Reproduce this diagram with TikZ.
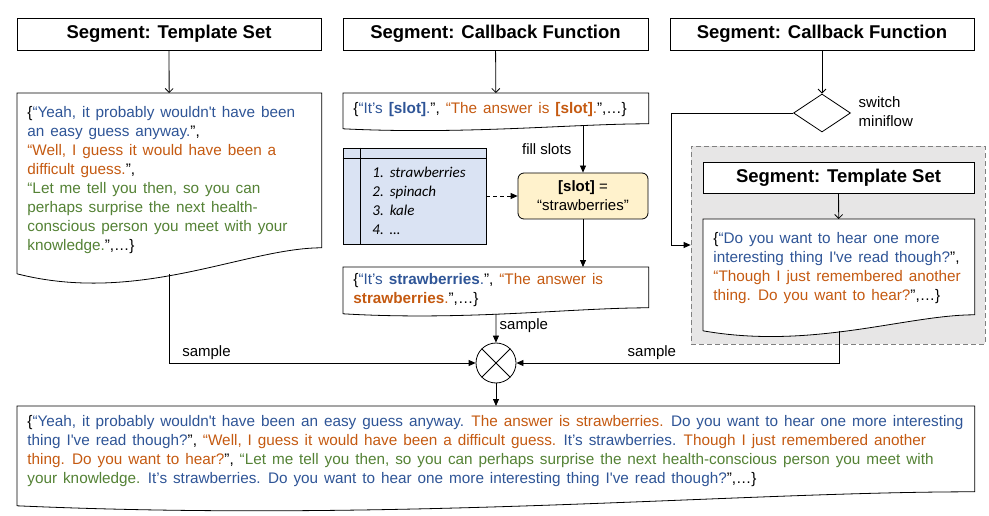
\documentclass[tikz,border=0pt]{standalone}
\usepackage{fontspec}
\setmainfont{Liberation Sans}
\newfontfamily\bodyfont{Liberation Sans}[WordSpace=1.4]
\newfontfamily\listfont{Carlito}
\usetikzlibrary{arrows.meta,positioning,shapes.geometric,calc}
\definecolor{tblue}{HTML}{2F5597}\definecolor{torange}{HTML}{C55A11}\definecolor{tgreen}{HTML}{548235}
\definecolor{slotfill}{HTML}{FFF2CC}\definecolor{listfill}{HTML}{DAE3F3}\definecolor{grayfill}{HTML}{E7E6E6}
\newcommand{\blu}[1]{\textcolor{tblue}{#1}}\newcommand{\ora}[1]{\textcolor{torange}{#1}}\newcommand{\grn}[1]{\textcolor{tgreen}{#1}}
\newcommand{\ap}{\textquotesingle}
\newcommand{\docpath}[2]{\draw[fill=white](#1.south west)--(#1.north west)--(#1.north east)--([yshift=#2pt]#1.south east)
 ..controls($(#1.south west)!0.75!(#1.south east)+(0pt,#2pt)$)and($(#1.south west)!0.4!(#1.south east)+(0pt,-1.2*#2pt)$)..(#1.south west);}
\tikzset{seg/.style={draw,fill=white,minimum height=32pt,font=\fontsize{18.5}{22}\selectfont\bfseries},docf/.style={inner sep=0pt,anchor=north west},
txt/.style={inner sep=0pt,anchor=north west,align=left,font=\bodyfont\fontsize{15.3}{19}\selectfont},lab/.style={font=\fontsize{15}{19}\selectfont},
barb/.style={-{Straight Barb[length=4pt,width=8pt]}},arr/.style={-{Triangle[length=7pt,width=6pt]}},
mixer/.style={draw,circle,fill=white,minimum size=40pt,inner sep=0pt,path picture={\draw(path picture bounding box.south west)--(path picture bounding box.north east)(path picture bounding box.north west)--(path picture bounding box.south east);}}}
\begin{document}
\begin{tikzpicture}[x=1pt,y=-1pt,line width=0.8pt]
\useasboundingbox(0,0)rectangle(989,516);
\node[draw=gray,dash pattern=on 5pt off 3pt,fill=grayfill,minimum width=294pt,minimum height=198pt](g)at(838,245){};
\node[seg,minimum width=304pt](t1)at(169,34){Segment: Template Set};
\node[seg,minimum width=305pt](t2)at(495.5,34){Segment: Callback Function};
\node[seg,minimum width=304pt](t3)at(822,34){Segment: Callback Function};
\node[seg,minimum width=271pt,minimum height=31pt](t4)at(838.5,177.5){Segment: Template Set};
% document frames
\node[docf,minimum width=304pt,minimum height=180pt](d1)at(17,93){};\docpath{d1}{26}
\node[docf,minimum width=305pt,minimum height=35pt](d2)at(343,93){};\docpath{d2}{5}
\node[docf,minimum width=305pt,minimum height=46pt](d3)at(343,267){};\docpath{d3}{6}
\node[docf,minimum width=271pt,minimum height=111pt](d4)at(703,219){};\docpath{d4}{16}
\node[docf,minimum width=957pt,minimum height=99pt](d5)at(17,406){};\docpath{d5}{14}
\node[txt](x1)at(27,106.4){\{\blu{“Yeah, it probably wouldn\ap t have been}\\\blu{an easy guess anyway.}”,\\
\ora{“Well, I guess it would have been a}\\\ora{difficult guess.}”,\\\grn{“Let me tell you then, so you can}\\
\grn{perhaps surprise the next health-}\\\grn{conscious person you meet with your}\\\grn{knowledge.}”,…\}};
\node[txt](x2)at(353,102.4){\{\blu{“It’s \textbf{[slot]}.}”, \ora{“The answer is \textbf{[slot]}.}”,…\}};
\node[txt](x3)at(353,273.4){\{\blu{“It’s \textbf{strawberries}.}”, \ora{“The answer is}\\\ora{\textbf{strawberries}.}”,…\}};
\node[txt](x4)at(713,232.4){\{\blu{“Do you want to hear one more}\\\blu{interesting thing I\ap ve read though?}”,\\
\ora{“Though I just remembered another}\\\ora{thing. Do you want to hear?}”,…\}};
\node[txt](x5)at(27,415.4){\{\blu{“Yeah, it probably wouldn\ap t have been an easy guess anyway.} \ora{The answer is strawberries.} \blu{Do you want to hear one more interesting}\\
\blu{thing I\ap ve read though?}”, \ora{“Well, I guess it would have been a difficult guess.} \blu{It’s strawberries.} \ora{Though I just remembered another}\\
\ora{thing. Do you want to hear?}”, \grn{“Let me tell you then, so you can perhaps surprise the next health-conscious person you meet with}\\
\grn{your knowledge.} \blu{It’s strawberries. Do you want to hear one more interesting thing I\ap ve read though?}”,…\}};
% slot filling
\node[draw,fill=listfill,minimum width=143pt,minimum height=96pt,inner sep=0pt](tb)at(414.5,196){};
\draw([xshift=18pt]tb.north west)--([xshift=18pt]tb.south west)([yshift=-11pt]tb.north west)--([yshift=-11pt]tb.north east);
\node[anchor=north west,inner sep=0pt,align=left,font=\listfont\itshape\fontsize{15}{19}\selectfont](items)at(372,167){1.\hspace{6pt}strawberries\\2.\hspace{6pt}spinach\\3.\hspace{6pt}kale\\4.\hspace{6pt}…};
\node[draw,fill=slotfill,rounded corners=6pt,minimum width=130pt,minimum height=46pt,align=center,lab](s)at(583,196){\textbf{[slot]} =\\“strawberries”};
\node[draw,diamond,minimum width=57pt,minimum height=38pt,inner sep=0pt](sw)at(822,113){};
\node[lab,align=left,anchor=west](l5)at(855,111.5){switch\\miniflow};
\node[mixer](mix)at(496,363){};
% connectors
\foreach\a/\b in{t1/d1,t2/d2,t3/sw,t4/d4}\draw[barb](\a)--(\b);
\draw[arr]($(s.north|-d2.south)+(0pt,3pt)$)--node[lab,left=8pt,pos=.49](l1){fill slots}(s);
\draw[arr,dash pattern=on 4pt off 3pt](tb)--(s);
\draw[arr](s)--(s|-d3.north);
\draw[arr](d3.south)--node[lab,right,pos=.4](l3){sample}(mix);
\draw[arr](d1.south)|-node[lab,above right,pos=.515](l2){sample}(mix);
\draw[arr](d4.south)|-node[lab,above,pos=.79](l4){sample}(mix);
\draw[arr](sw.west)--++(-122,0)|-(g.west);
\draw[arr](mix)--(mix|-d5.north);
\end{tikzpicture}
\end{document}
